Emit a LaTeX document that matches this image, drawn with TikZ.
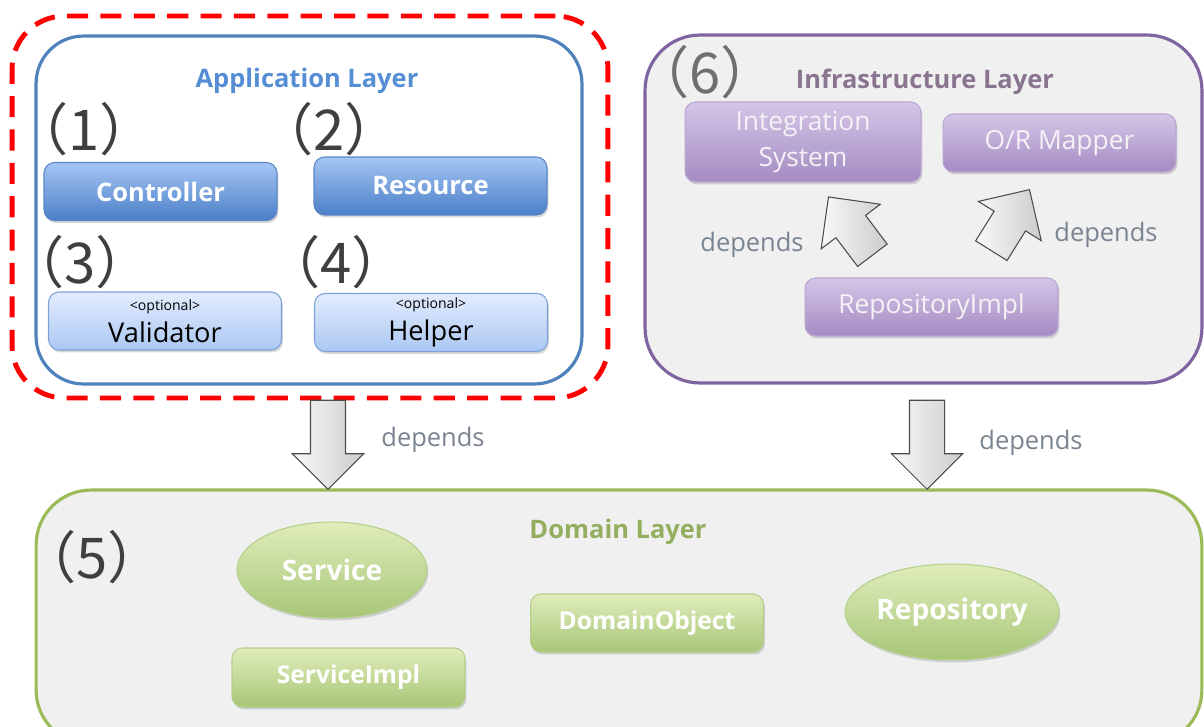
\documentclass[tikz,border=0pt]{standalone}
\usepackage{fontspec}
\setmainfont{Open Sans}
\newfontfamily\cjk{Noto Sans CJK JP}
\usepackage{tikz}
\usetikzlibrary{shapes.geometric, shapes.arrows, shadows, positioning, calc}

\definecolor{appblue}{HTML}{4F81BD}
\definecolor{titleblue}{HTML}{558ED5}
\definecolor{ctrltop}{HTML}{A5C6F4}
\definecolor{ctrlbot}{HTML}{4B7FC8}
\definecolor{ctrlline}{HTML}{5A86C5}
\definecolor{opttop}{HTML}{E3ECFD}
\definecolor{optbot}{HTML}{ABC8F3}
\definecolor{optline}{HTML}{7EA2D8}
\definecolor{infraline}{HTML}{8064A2}
\definecolor{infratitle}{HTML}{8A7590}
\definecolor{purptop}{HTML}{D4C6E7}
\definecolor{purpbot}{HTML}{A48BC2}
\definecolor{purpline}{HTML}{B9A6D2}
\definecolor{purptext}{HTML}{F4F2F7}
\definecolor{domline}{HTML}{9BBB59}
\definecolor{domtitle}{HTML}{93AE5F}
\definecolor{greentop}{HTML}{E0EDBB}
\definecolor{greenbot}{HTML}{A7C677}
\definecolor{greenline}{HTML}{B5CF8B}
\definecolor{layerfill}{HTML}{F0F0F0}
\definecolor{deptext}{HTML}{7A8491}
\definecolor{numgray}{HTML}{3F3F3F}

\tikzset{
  layer/.style={draw, rounded corners=0.95cm, line width=1.8pt, inner sep=0pt},
  boxshadow/.style={drop shadow={opacity=.3, shadow xshift=.8pt, shadow yshift=-1.4pt}},
  box/.style={draw, rounded corners=6pt, line width=.6pt, inner sep=0pt,
    minimum width=4.66cm, minimum height=1.16cm, align=center, boxshadow},
  ctrlbox/.style={box, draw=ctrlline, top color=ctrltop, bottom color=ctrlbot,
    text=white, font=\fontsize{14.5}{17}\selectfont\bfseries},
  optbox/.style={box, draw=optline, top color=opttop, bottom color=optbot,
    text=black, font=\fontsize{15.5}{17}\selectfont},
  purpbox/.style={box, draw=purpline, top color=purptop, bottom color=purpbot,
    text=purptext, font=\fontsize{15}{21}\selectfont},
  greenbox/.style={box, draw=greenline, top color=greentop, bottom color=greenbot,
    text=white, font=\fontsize{14}{17}\selectfont\bfseries},
  greenoval/.style={ellipse, draw=greenline, line width=.6pt, top color=greentop,
    bottom color=greenbot, minimum width=3.8cm, minimum height=1.92cm, inner sep=0pt,
    text=white, font=\fontsize{16}{20}\selectfont\bfseries, boxshadow},
  title/.style={font=\fontsize{14.5}{17}\selectfont\bfseries},
  num/.style={font=\cjk\fontsize{32}{36}\selectfont, text=numgray},
  deplbl/.style={font=\fontsize{14.5}{17}\selectfont, text=deptext},
  fatarrow/.style={single arrow, draw=black!70, line width=.6pt,
    left color=gray!5, right color=gray!40, single arrow tip angle=90}
}

\begin{document}
\begin{tikzpicture}[x=0.02cm, y=-0.02cm]
\useasboundingbox (0,0) rectangle (1204,727);
\fill[white] (0,0) rectangle (1204,727);

\node[layer, draw=red, line width=2.8pt, dash pattern=on 12pt off 7pt, rounded corners=1.05cm,
  minimum width=11.92cm, minimum height=7.64cm] (appframe) at (310,207) {};
\node[layer, draw=appblue, fill=white, minimum width=10.92cm, minimum height=6.96cm] (app) at (309,210) {};
\node[layer, draw=infraline, fill=layerfill, rounded corners=1.1cm,
  minimum width=11.14cm, minimum height=6.96cm] (infra) at (923.5,209) {};
\node[layer, draw=domline, fill=layerfill, rounded corners=1.1cm,
  minimum width=23.32cm, minimum height=5.1cm] (dom) at (619,617.5) {};

\node[title, text=titleblue] (appTitle) at (307,81) {Application Layer};
\node[title, text=infratitle] (infraTitle) at (925,82) {Infrastructure Layer};
\node[title, text=domtitle] (domTitle) at (618,532) {Domain Layer};

\node[num] (n1) at (84,129) {（1）};
\node[num] (n2) at (329,129) {（2）};
\node[num] (n3) at (80,262) {（3）};
\node[num] (n4) at (336,262) {（4）};
\node[num] (n5) at (92,557) {（5）};
\node[num, text=numgray!75] (n6) at (705,72) {（6）};

\node[ctrlbox] (ctrl) at (160.5,191.5) {Controller};
\node[ctrlbox] (res) at (430.5,186) {Resource};
\node[optbox] (valid) at (165,321) {{\fontsize{8}{9}\selectfont <optional>}\\[1pt]Validator};
\node[optbox] (helper) at (431,322.5) {{\fontsize{8}{9}\selectfont <optional>}\\[1pt]Helper};

\node[purpbox, minimum width=4.72cm, minimum height=1.6cm] (integ) at (803,142) {Integration\\System};
\node[purpbox] (ormap) at (1059.5,143) {O/R Mapper};
\node[purpbox, minimum width=5.06cm] (repimpl) at (931.5,307) {RepositoryImpl};

\node[fatarrow, minimum height=1.46cm, inner sep=.36cm, single arrow head extend=.37cm,
  rotate=127] (depInteg) at (856,233.5) {};
\node[fatarrow, minimum height=1.44cm, inner sep=.36cm, single arrow head extend=.37cm,
  rotate=58] (depOrm) at (1005.5,228) {};
\node[deplbl] (lblInteg) at (752,245) {depends};
\node[deplbl] (lblOrm) at (1106,235) {depends};

\node[fatarrow, minimum height=1.78cm, inner sep=.34cm, single arrow head extend=.36cm,
  rotate=-90] (depApp) at (328,436) {};
\node[fatarrow, minimum height=1.78cm, inner sep=.34cm, single arrow head extend=.36cm,
  rotate=-90] (depInfra) at (927,436) {};
\node[deplbl] (lblApp) at (433,440) {depends};
\node[deplbl] (lblInfra) at (1031,443) {depends};

\node[greenoval] (svc) at (332,570) {Service};
\node[greenbox, minimum height=1.18cm] (svcimpl) at (348.5,677.5) {ServiceImpl};
\node[greenbox] (domobj) at (647,623) {DomainObject};
\node[greenoval] (repo) at (952,612) {Repository};
\end{tikzpicture}
\end{document}
